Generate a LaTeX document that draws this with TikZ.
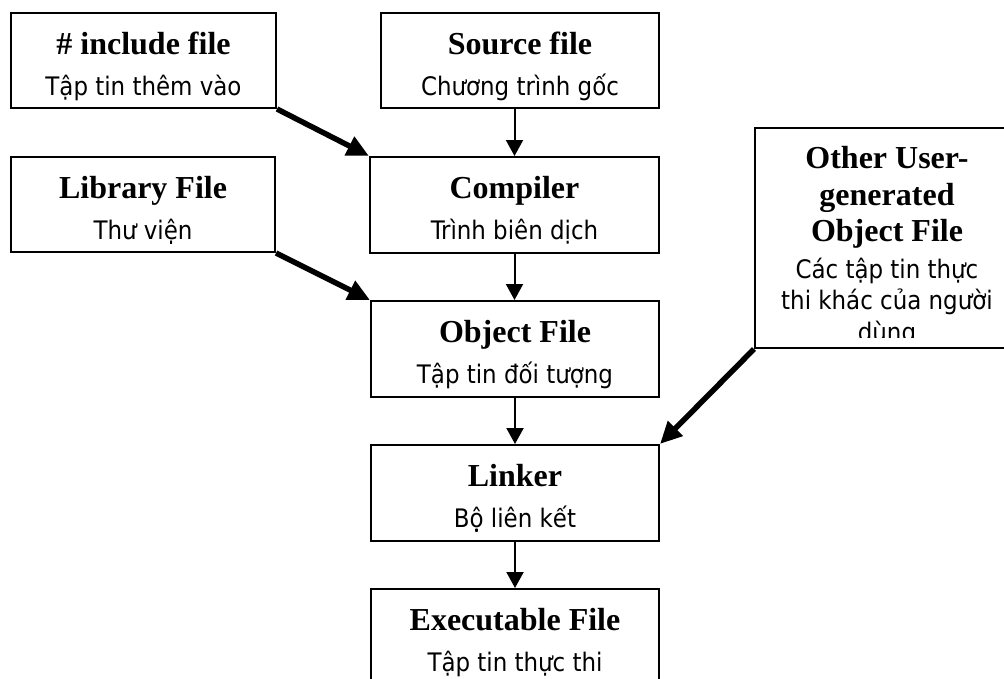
\documentclass[tikz,border=0pt]{standalone}
\usepackage{fontspec}
\setmainfont{Liberation Serif}
\newfontfamily\vnfont{DejaVu Sans Condensed}
\usetikzlibrary{arrows.meta}
\begin{document}
\begin{tikzpicture}[x=1pt,y=-1pt,
  box/.style={draw, line width=2pt, inner sep=0pt},
  ttl/.style={anchor=base, inner sep=0pt, font=\fontsize{32}{35}\selectfont\bfseries},
  vn/.style={anchor=base, inner sep=0pt, font=\vnfont\fontsize{25.5}{30}\selectfont},
  thinarr/.style={line width=2pt, -{Triangle[width=17pt,length=16pt]}},
  thickarr/.style={line width=5.5pt, -{Triangle[width=20pt,length=22pt]}}]
\useasboundingbox (0,0) rectangle (1004,678);
\clip (0,0) rectangle (1004,678);
\fill[white] (0,0) rectangle (1004,678);

% boxes
\node[box, minimum width=265pt, minimum height=95pt] (inc) at (143.5,60.5) {};
\node[box, minimum width=278pt, minimum height=95pt] (src) at (520,60.5) {};
\node[box, minimum width=264pt, minimum height=95pt] (lib) at (143,204.5) {};
\node[box, minimum width=289pt, minimum height=96pt] (cmp) at (514.5,205) {};
\node[box, minimum width=288pt, minimum height=96pt] (obj) at (515,349) {};
\node[box, minimum width=288pt, minimum height=96pt] (lnk) at (515,493) {};
\node[box, minimum width=288pt, minimum height=96pt] (exe) at (515,637) {};
\node[box, minimum width=264pt, minimum height=220pt] (oth) at (887,238) {};

% texts
\node[ttl] (incT) at (143.5,54) {\# include file};
\node[vn]  (incV) at (143.5,95) {Tập tin thêm vào};
\node[ttl] (srcT) at (520,54) {Source file};
\node[vn]  (srcV) at (520,95) {Chương trình gốc};
\node[ttl] (libT) at (143,198) {Library File};
\node[vn]  (libV) at (143,239) {Thư viện};
\node[ttl] (cmpT) at (514.5,198) {Compiler};
\node[vn]  (cmpV) at (514.5,239) {Trình biên dịch};
\node[ttl] (objT) at (515,342) {Object File};
\node[vn]  (objV) at (515,383) {Tập tin đối tượng};
\node[ttl] (lnkT) at (515,486) {Linker};
\node[vn]  (lnkV) at (515,527) {Bộ liên kết};
\node[ttl] (exeT) at (515,630) {Executable File};
\node[vn]  (exeV) at (515,671) {Tập tin thực thi};

\begin{scope}
\clip (757,130) rectangle (1004,337);
\node[ttl] (othT1) at (887,168) {Other User-};
\node[ttl] (othT2) at (887,205) {generated};
\node[ttl] (othT3) at (887,241) {Object File};
\node[vn]  (othV1) at (887,278) {Các tập tin thực};
\node[vn]  (othV2) at (887,309) {thi khác của người};
\node[vn]  (othV3) at (887,341) {dùng};
\end{scope}

% connectors
\draw[thinarr] (src.south -| cmp.north) -- (cmp.north);
\draw[thinarr] (cmp.south) -- (cmp.south |- obj.north);
\draw[thinarr] (obj.south) -- (lnk.north);
\draw[thinarr] (lnk.south) -- (exe.north);
\draw[thickarr] (inc.south east) -- (cmp.north west);
\draw[thickarr] (lib.south east) -- (obj.north west);
\draw[thickarr] (oth.south west) -- (lnk.north east);
\end{tikzpicture}
\end{document}
